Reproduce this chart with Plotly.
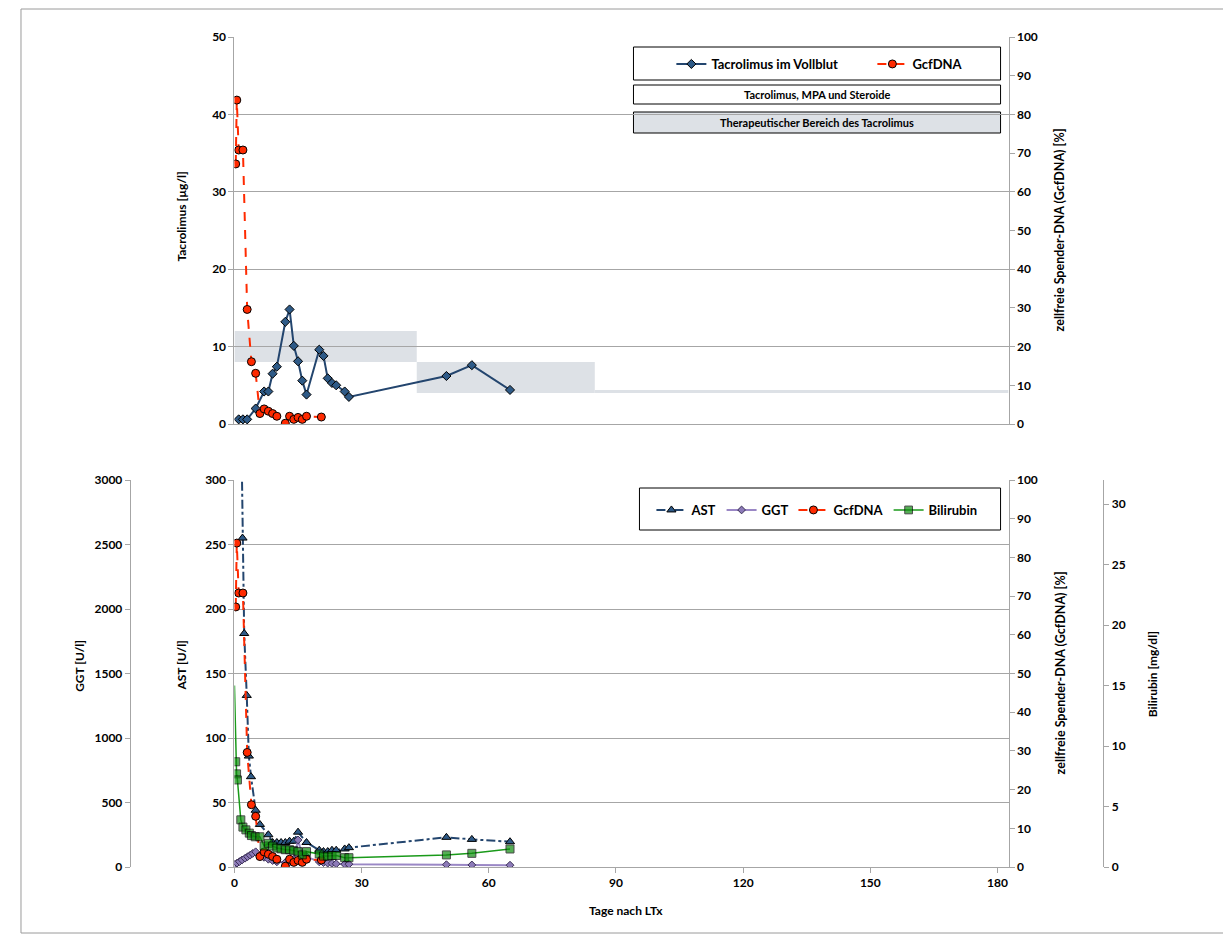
import plotly.graph_objects as go

# ---------------- data ----------------
tac_days = [1, 2, 3, 5, 7, 8, 9, 10, 12, 13, 14, 15, 16, 17, 20, 21, 22, 23, 24, 26, 27, 50, 56, 65]
tac_vals = [0.6, 0.6, 0.6, 2.0, 4.2, 4.2, 6.5, 7.4, 13.2, 14.8, 10.1, 8.1, 5.6, 3.8, 9.6, 8.8,
            5.9, 5.3, 5.0, 4.2, 3.5, 6.2, 7.6, 4.4]

cf_days = [0.3, 0.55, 1, 2, 3, 4, 5, 6, 7, 8, 9, 10, 12, 13, 14, 15, 16, 17, 20.5]
cf_vals = [67.2, 83.7, 70.8, 70.8, 29.6, 16.1, 13.1, 2.7, 3.9, 3.3, 2.7, 2.0, 0.2, 2.0, 1.2,
           1.7, 1.2, 2.0, 1.8]

ast_days = [1, 1.9, 2.3, 2.9, 3.4, 3.9, 5, 6, 8, 9, 10, 11, 12, 13, 14, 15, 17,
            20, 21, 22, 23, 24, 26, 27, 50, 56, 65]
ast_vals = [480, 255, 181, 133, 86, 70, 44, 33, 25, 19, 19, 19, 19, 20, 20, 27, 19,
            13, 12, 12, 13, 13, 14, 15, 23, 21.4, 19.6]

ggt_days = [0, 0.6, 1.2, 1.8, 2.5, 3.1, 3.7, 4.3, 5, 6, 7, 8, 9, 10, 12, 13, 14, 15, 16, 17,
            20, 21, 22, 23, 24, 26, 27, 50, 56, 65]
ggt_vals = [20, 30, 42, 55, 68, 80, 92, 105, 118, 90, 75, 60, 50, 40, 35, 40, 60, 210, 90, 80,
            40, 35, 30, 28, 25, 22, 22, 18, 16, 14]

bili_days = [0, 0.3, 0.5, 0.7, 1.5, 2, 2.7, 3.5, 4, 4.9, 6, 7, 8, 9, 10, 11, 12, 13, 14, 15,
             16, 17, 20, 21, 22, 23, 24, 26, 27, 50, 56, 65]
bili_vals = [15.0, 8.7, 7.7, 7.2, 3.9, 3.3, 3.07, 2.8, 2.6, 2.5, 2.5, 1.74, 1.96, 1.74, 1.57,
             1.5, 1.43, 1.43, 1.35, 1.27, 1.0, 1.27, 1.08, 0.9, 0.9, 0.95, 0.95, 0.77, 0.77,
             1.0, 1.13, 1.49]

# therapeutic range of tacrolimus (day start, day end, low, high)
ther_start = [0, 43, 85]
ther_end = [43, 85, 182.6]
ther_low = [8, 4, 4.0]
ther_high = [12, 8, 4.4]

x_ticks = [0, 30, 60, 90, 120, 150, 180]

# ---------------- layout helpers ----------------
OFF = 8                      # page offset of the figure (body margin)
W, H = 1223, 927
ML, MR, MT, MB = 4, 4, 37 - OFF, 927 - (867 - OFF)
PW = W - ML - MR
PH = H - MT - MB


def px_x(px):
    """page pixel x -> paper coordinate"""
    return (px - OFF - ML) / PW


def px_y(py):
    """page pixel y -> paper coordinate"""
    return (H - MB - (py - OFF)) / PH


FONT = "Lato"
GRID = "#A6A6A6"
tickfont = dict(family=FONT, size=12, color="black", weight="bold")

BLUE_L = "#23456E"
BLUE_M = "#2E5A87"
RED = "#FF2A00"
PURP_L = "#9A87C5"
PURP_M = "#8C7AB8"
GREEN_L = "#1A9A1A"
GREEN_M = "#0E8C0E"

fig = go.Figure()

# top panel
fig.add_trace(go.Scatter(
    x=tac_days, y=tac_vals, name="Tacrolimus im Vollblut", mode="lines+markers",
    xaxis="x", yaxis="y", legend="legend",
    line=dict(color=BLUE_L, width=2),
    marker=dict(symbol="diamond", size=7, color=BLUE_M, line=dict(color="black", width=1)),
))
fig.add_trace(go.Scatter(
    x=cf_days, y=cf_vals, name="GcfDNA", mode="lines+markers",
    xaxis="x", yaxis="y2", legend="legend",
    line=dict(color=RED, width=2, dash="dash"),
    marker=dict(symbol="circle", size=8, color=RED, line=dict(color="black", width=1)),
))

# bottom panel
fig.add_trace(go.Scatter(
    x=ast_days, y=ast_vals, name="AST", mode="lines+markers",
    xaxis="x2", yaxis="y3", legend="legend2", cliponaxis=True,
    line=dict(color=BLUE_L, width=2, dash="dashdot"),
    marker=dict(symbol="triangle-up", size=8, color=BLUE_M, line=dict(color="black", width=1)),
))
fig.add_trace(go.Scatter(
    x=ggt_days, y=ggt_vals, name="GGT", mode="lines+markers",
    xaxis="x2", yaxis="y4", legend="legend2",
    line=dict(color=PURP_L, width=2),
    marker=dict(symbol="diamond", size=6, color=PURP_M, line=dict(color="#3A2F55", width=1)),
))
fig.add_trace(go.Scatter(
    x=cf_days, y=cf_vals, name="GcfDNA", mode="lines+markers",
    xaxis="x2", yaxis="y5", legend="legend2",
    line=dict(color=RED, width=2, dash="dash"),
    marker=dict(symbol="circle", size=8, color=RED, line=dict(color="black", width=1)),
))
bili_sizes = [0] + [8] * (len(bili_days) - 1)
fig.add_trace(go.Scatter(
    x=bili_days, y=bili_vals, name="Bilirubin", mode="lines+markers",
    xaxis="x2", yaxis="y6", legend="legend2",
    line=dict(color=GREEN_L, width=1.5),
    marker=dict(symbol="square", size=bili_sizes, color=GREEN_M, line=dict(color="black", width=1)),
))

xdom = [px_x(232), px_x(1008)]
xr = [0, 182.6]
common_y = dict(showline=True, linecolor=GRID, linewidth=1, ticks="outside", ticklen=5,
                tickcolor=GRID, tickfont=tickfont, zeroline=False)

fig.update_layout(
    width=W, height=H,
    margin=dict(l=ML, r=MR, t=MT, b=MB),
    paper_bgcolor="white", plot_bgcolor="rgba(0,0,0,0)",
    font=dict(family=FONT, size=12, color="black"),
    xaxis=dict(domain=xdom, range=xr, anchor="y", showticklabels=False, showgrid=False,
               showline=True, linecolor=GRID, ticks="", zeroline=False),
    yaxis=dict(domain=[px_y(424), 1], range=[0, 50], dtick=10, anchor="x",
               showgrid=True, gridcolor=GRID, gridwidth=1, **common_y),
    yaxis2=dict(overlaying="y", side="right", anchor="x", range=[0, 100], dtick=10,
                showgrid=False, **common_y),
    xaxis2=dict(domain=xdom, range=xr, anchor="y3", tickvals=x_ticks, showgrid=False,
                showline=True, linecolor=GRID, ticks="outside", ticklen=5, tickcolor=GRID,
                tickfont=tickfont, zeroline=False),
    yaxis3=dict(domain=[0, px_y(480)], range=[0, 300], dtick=50, anchor="x2",
                showgrid=True, gridcolor=GRID, gridwidth=1, **common_y),
    yaxis4=dict(overlaying="y3", side="left", anchor="free", position=px_x(127),
                range=[0, 3000], dtick=500, showgrid=False, **common_y),
    yaxis5=dict(overlaying="y3", side="right", anchor="x2", range=[0, 100], dtick=10,
                showgrid=False, **common_y),
    yaxis6=dict(overlaying="y3", side="right", anchor="free", position=px_x(1103),
                range=[0, 32], tickvals=[0, 5, 10, 15, 20, 25, 30], showgrid=False, **common_y),
    legend=dict(orientation="h", x=px_x(670), y=px_y(49), xanchor="left", yanchor="top",
                bgcolor="rgba(0,0,0,0)", borderwidth=0, entrywidth=156,
                font=dict(family=FONT, size=13, color="black", weight="bold")),
    legend2=dict(orientation="h", x=px_x(650), y=px_y(495), xanchor="left", yanchor="top",
                 bgcolor="rgba(0,0,0,0)", borderwidth=0,
                 font=dict(family=FONT, size=13, color="black", weight="bold")),
    showlegend=True,
)

shapes = []
for s, e, lo, hi in zip(ther_start, ther_end, ther_low, ther_high):
    shapes.append(dict(type="rect", xref="x", yref="y", x0=s, x1=e, y0=lo, y1=hi,
                       fillcolor="#DDE1E6", line=dict(width=0), layer="below"))


def box(x0, x1, y0, y1, fill="white"):
    return dict(type="rect", xref="paper", yref="paper", x0=px_x(x0), x1=px_x(x1),
                y0=px_y(y1), y1=px_y(y0), fillcolor=fill, line=dict(color="black", width=1),
                layer="below")


shapes.append(box(632, 1000, 47, 80))
shapes.append(box(632, 1000, 85, 104))
shapes.append(box(632, 1000, 112, 133, "#DDE1E6"))
shapes.append(box(638, 1000, 488, 530))
# outer frame
shapes.append(dict(type="rect", xref="paper", yref="paper", x0=px_x(18), x1=px_x(1229),
                   y0=px_y(933), y1=px_y(9), line=dict(color="#9A9A9A", width=1),
                   fillcolor="rgba(0,0,0,0)", layer="below"))
fig.update_layout(shapes=shapes)


def ann(text, x, y, angle=0, size=12):
    return dict(text=text, xref="paper", yref="paper", x=px_x(x), y=px_y(y),
                xanchor="center", yanchor="middle", showarrow=False, textangle=angle,
                font=dict(family=FONT, size=size, color="black", weight="bold"))


annotations = [
    ann("Tacrolimus, MPA und Steroide", 816, 94.5, size=11),
    ann("Therapeutischer Bereich des Tacrolimus", 816, 122.5, size=11),
    ann("Tacrolimus [µg/l]", 178, 217, -90),
    ann("zellfreie Spender-DNA (GcfDNA) [%]", 1060, 230, -90, size=12.5),
    ann("GGT [U/l]", 76, 666, -90),
    ann("AST [U/l]", 178, 666, -90),
    ann("zellfreie Spender-DNA (GcfDNA) [%]", 1060, 673, -90, size=12.5),
    ann("Bilirubin [mg/dl]", 1152, 674, -90),
    ann("Tage nach LTx", 625, 910),
]
fig.update_layout(annotations=annotations)

fig.write_html("out.html")
